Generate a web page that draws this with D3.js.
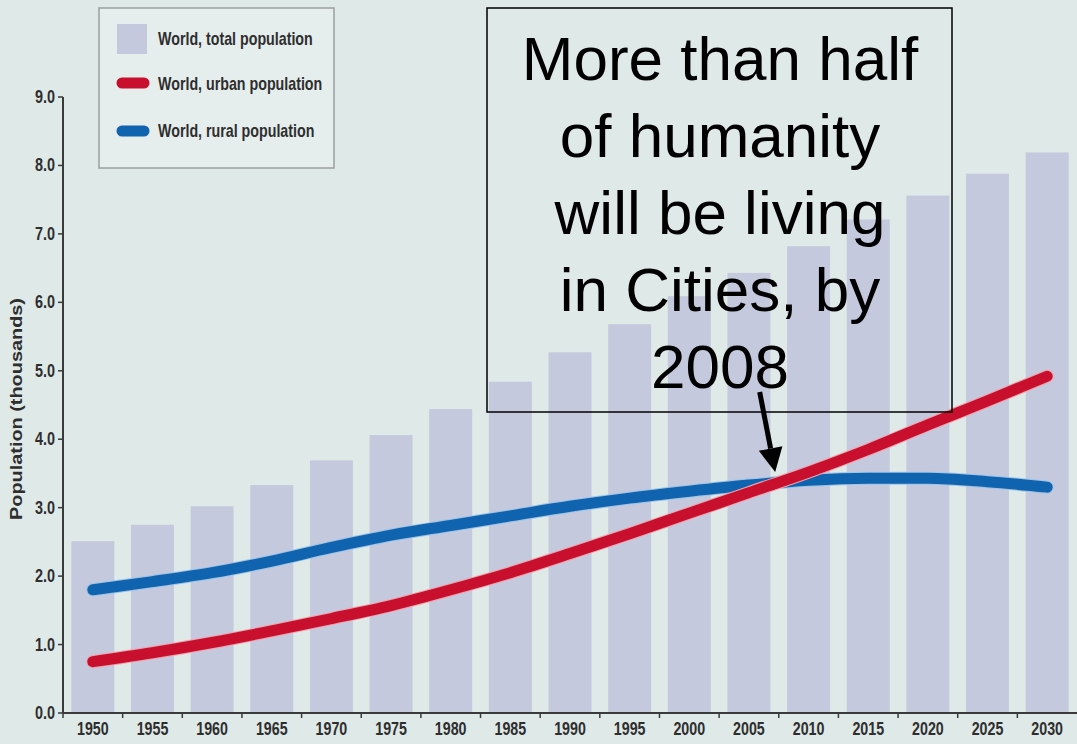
<!DOCTYPE html>
<html>
<head>
<meta charset="utf-8">
<script src="https://cdn.jsdelivr.net/npm/d3@7.9.0/dist/d3.min.js"></script>
<style>
  body { margin: 0; background: #dfe9e8; }
  svg { display: block; }
  .lbl { font-family: 'Liberation Sans', Arial, sans-serif; font-weight: bold; fill: #2e2e2e; }
  .note { font-family: 'Liberation Sans', Arial, sans-serif; fill: #000; }
</style>
</head>
<body>
<svg id="chart" width="1077" height="744"></svg>
<script>
// years on the x axis
const years = [1950, 1955, 1960, 1965, 1970, 1975, 1980, 1985, 1990, 1995,
               2000, 2005, 2010, 2015, 2020, 2025, 2030];

// world total population (bars)
const totalPop = [2.51, 2.75, 3.02, 3.33, 3.69, 4.06, 4.44, 4.84, 5.27, 5.68,
                  6.09, 6.43, 6.82, 7.21, 7.56, 7.88, 8.19];

// world urban population (red line)
const urbanPop = [0.75, 0.88, 1.03, 1.20, 1.38, 1.57, 1.80, 2.05, 2.33, 2.62,
                  2.92, 3.22, 3.52, 3.85, 4.21, 4.56, 4.92];

// world rural population (blue line)
const ruralPop = [1.80, 1.92, 2.05, 2.22, 2.42, 2.60, 2.74, 2.88, 3.02, 3.14,
                  3.24, 3.33, 3.40, 3.43, 3.43, 3.38, 3.30];

const yTicks = [0, 1, 2, 3, 4, 5, 6, 7, 8, 9];

const legendItems = ['World, total population', 'World, urban population', 'World, rural population'];

const noteLines = ['More than half', 'of humanity', 'will be living', 'in Cities, by', '2008'];

const barColor = '#c4c9de';
const urbanColor = '#c8102e';
const ruralColor = '#1063ae';

// the original labels look tall and narrow, so squeeze them horizontally
const squeeze = 0.75;

const svg = d3.select('#chart');

svg.append('rect')
  .attr('width', 1077).attr('height', 744)
  .attr('fill', '#dfe9e8');

// scales
const x = d3.scaleBand()
  .domain(years)
  .range([63, 1077])
  .paddingInner(0.28)
  .paddingOuter(0.14);

const y = d3.scaleLinear()
  .domain([0, 9])
  .range([713, 97]);

const bw = x.bandwidth();
// continuous year position (centre of bands), used for the arrow
const xYear = d3.scaleLinear()
  .domain([1950, 2030])
  .range([x(1950) + bw / 2, x(2030) + bw / 2]);

// bars
svg.append('g')
  .selectAll('rect')
  .data(years)
  .join('rect')
  .attr('x', d => x(d))
  .attr('y', (d, i) => y(totalPop[i]))
  .attr('width', bw)
  .attr('height', (d, i) => y(0) - y(totalPop[i]))
  .attr('fill', barColor);

// lines
const line = d3.line()
  .x(d => x(d[0]) + bw / 2)
  .y(d => y(d[1]))
  .curve(d3.curveMonotoneX);

const series = [
  { values: ruralPop, color: ruralColor, halo: '#9cc4e6' },
  { values: urbanPop, color: urbanColor, halo: '#eea3ad' }
];

series.forEach(s => {
  const pts = years.map((yr, i) => [yr, s.values[i]]);
  svg.append('path')
    .attr('d', line(pts))
    .attr('fill', 'none')
    .attr('stroke', s.halo)
    .attr('stroke-width', 13)
    .attr('stroke-linecap', 'round');
  svg.append('path')
    .attr('d', line(pts))
    .attr('fill', 'none')
    .attr('stroke', s.color)
    .attr('stroke-width', 11)
    .attr('stroke-linecap', 'round');
});

// x axis
const xAxisG = svg.append('g');
xAxisG.append('line')
  .attr('x1', 63).attr('x2', 1077)
  .attr('y1', y(0)).attr('y2', y(0))
  .attr('stroke', '#3a3a3a').attr('stroke-width', 2);

const step = x.step();
const boundaries = years.map(d => x(d) - (step - bw) / 2);
xAxisG.selectAll('line.tick')
  .data(boundaries)
  .join('line')
  .attr('class', 'tick')
  .attr('x1', d => d).attr('x2', d => d)
  .attr('y1', y(0)).attr('y2', y(0) + 5)
  .attr('stroke', '#3a3a3a').attr('stroke-width', 1.5);

xAxisG.selectAll('text')
  .data(years)
  .join('text')
  .attr('class', 'lbl')
  .attr('transform', d => `translate(${x(d) + bw / 2},735) scale(${squeeze},1)`)
  .attr('text-anchor', 'middle')
  .attr('font-size', 19)
  .text(d => d);

// y axis
const yAxisG = svg.append('g');
yAxisG.append('line')
  .attr('x1', 63).attr('x2', 63)
  .attr('y1', y(9)).attr('y2', y(0))
  .attr('stroke', '#3a3a3a').attr('stroke-width', 2);

yAxisG.selectAll('line.tick')
  .data(yTicks)
  .join('line')
  .attr('class', 'tick')
  .attr('x1', 58).attr('x2', 63)
  .attr('y1', d => y(d)).attr('y2', d => y(d))
  .attr('stroke', '#3a3a3a').attr('stroke-width', 1.5);

yAxisG.selectAll('text')
  .data(yTicks)
  .join('text')
  .attr('class', 'lbl')
  .attr('transform', d => `translate(55,${y(d) + 6}) scale(0.8,1)`)
  .attr('text-anchor', 'end')
  .attr('font-size', 18)
  .text(d => d.toFixed(1));

svg.append('text')
  .attr('class', 'lbl')
  .attr('transform', 'translate(22,409) rotate(-90)')
  .attr('text-anchor', 'middle')
  .attr('font-size', 17)
  .attr('textLength', 222)
  .attr('lengthAdjust', 'spacingAndGlyphs')
  .text('Population (thousands)');

// legend
const legend = svg.append('g');
legend.append('rect')
  .attr('x', 99).attr('y', 8)
  .attr('width', 235).attr('height', 160)
  .attr('fill', '#e5eded')
  .attr('stroke', '#9a9e9e').attr('stroke-width', 1.5);

legend.append('rect')
  .attr('x', 117).attr('y', 24)
  .attr('width', 30).attr('height', 30)
  .attr('fill', barColor);

[[urbanColor, 83], [ruralColor, 131]].forEach(([c, cy]) => {
  legend.append('line')
    .attr('x1', 122).attr('x2', 144)
    .attr('y1', cy).attr('y2', cy)
    .attr('stroke', c).attr('stroke-width', 11)
    .attr('stroke-linecap', 'round');
});

legend.selectAll('text')
  .data(legendItems)
  .join('text')
  .attr('class', 'lbl')
  .attr('transform', (d, i) => `translate(158,${[45, 90, 137][i]}) scale(${squeeze},1)`)
  .attr('font-size', 19)
  .text(d => d);

// annotation box
svg.append('rect')
  .attr('x', 487).attr('y', 8)
  .attr('width', 465).attr('height', 404)
  .attr('fill', 'none')
  .attr('stroke', '#000').attr('stroke-width', 1.5);

svg.append('g')
  .selectAll('text')
  .data(noteLines)
  .join('text')
  .attr('class', 'note')
  .attr('x', 720)
  .attr('y', (d, i) => 80 + i * 77)
  .attr('text-anchor', 'middle')
  .attr('font-size', 62)
  .text(d => d);

// arrow pointing at the crossing
const tail = [xYear(2005.9), y(4.69)];
const tip = [xYear(2007.2), y(3.52)];
const ang = Math.atan2(tip[1] - tail[1], tip[0] - tail[0]);
const headLen = 24, headHalf = 12;
const base = [tip[0] - headLen * Math.cos(ang), tip[1] - headLen * Math.sin(ang)];
svg.append('line')
  .attr('x1', tail[0]).attr('y1', tail[1])
  .attr('x2', base[0]).attr('y2', base[1])
  .attr('stroke', '#000').attr('stroke-width', 5);
svg.append('path')
  .attr('d', d3.line()([
    tip,
    [base[0] + headHalf * Math.sin(ang), base[1] - headHalf * Math.cos(ang)],
    [base[0] - headHalf * Math.sin(ang), base[1] + headHalf * Math.cos(ang)]
  ]) + 'Z')
  .attr('fill', '#000');
</script>
</body>
</html>
